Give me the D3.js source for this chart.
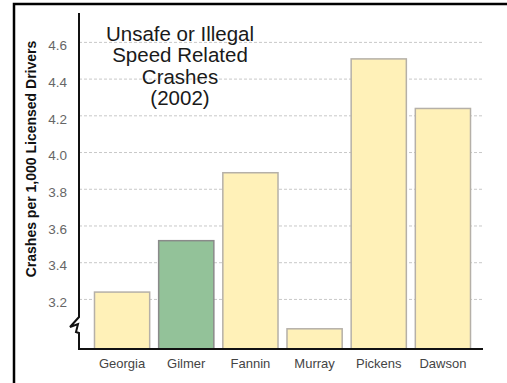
<!DOCTYPE html>
<html>
<head>
<meta charset="utf-8">
<script src="https://cdn.jsdelivr.net/npm/d3@7"></script>
<style>
  body { margin: 0; background: #fff; }
  svg text { font-family: "Liberation Sans", Arial, sans-serif; }
</style>
</head>
<body>
<div id="chart"></div>
<script>
"use strict"

// data
const counties = ["Georgia", "Gilmer", "Fannin", "Murray", "Pickens", "Dawson"];
const rates = [3.24, 3.52, 3.89, 3.04, 4.51, 4.24];
const highlight = "Gilmer";
const yTicks = [3.2, 3.4, 3.6, 3.8, 4.0, 4.2, 4.4, 4.6];
const titleLines = ["Unsafe or Illegal", "Speed Related", "Crashes", "(2002)"];
const yLabel = "Crashes per 1,000 Licensed Drivers";

const W = 507, H = 383;
const axisX = 79, plotRight = 483, axisTop = 13, axisBottom = 349;

var svg = d3.select("#chart")
  .append("svg")
    .attr("width", W)
    .attr("height", H);

// frame (top + left edges only)
svg.append("path")
  .attr("d", "M14,383 L14,4 L507,4")
  .attr("fill", "none")
  .attr("stroke", "#000")
  .attr("stroke-width", 2.5);

var x = d3.scaleBand()
  .domain(counties)
  .range([90, 475])
  .paddingInner(0.14)
  .paddingOuter(0.07);

var y = d3.scaleLinear()
  .domain([2.93, 4.76])
  .range([axisBottom, axisTop]);

// gridlines
svg.append("g")
  .selectAll("line")
  .data(yTicks)
  .enter()
  .append("line")
    .attr("x1", axisX)
    .attr("x2", plotRight)
    .attr("y1", d => y(d))
    .attr("y2", d => y(d))
    .attr("stroke", "#c8c8c8")
    .attr("stroke-width", 1)
    .attr("stroke-dasharray", "3,2");

// y tick labels
svg.append("g")
  .selectAll("text")
  .data(yTicks)
  .enter()
  .append("text")
    .attr("x", 67)
    .attr("y", d => y(d) + 3)
    .attr("dy", "0.35em")
    .attr("text-anchor", "end")
    .style("font-size", "13.5px")
    .style("fill", "#666")
    .text(d => d.toFixed(1));

// bars
svg.append("g")
  .selectAll("rect")
  .data(counties)
  .enter()
  .append("rect")
    .attr("x", d => x(d))
    .attr("y", (d, i) => y(rates[i]))
    .attr("width", x.bandwidth())
    .attr("height", (d, i) => axisBottom - y(rates[i]))
    .attr("fill", d => d === highlight ? "#93c299" : "#fff1b8")
    .attr("stroke", d => d === highlight ? "#8a8a8a" : "#b5b0a8")
    .attr("stroke-width", 1.5);

// x labels
svg.append("g")
  .selectAll("text")
  .data(counties)
  .enter()
  .append("text")
    .attr("x", d => x(d) + x.bandwidth() / 2)
    .attr("y", 368)
    .attr("text-anchor", "middle")
    .style("font-size", "13px")
    .style("fill", "#444")
    .text(d => d);

// y axis with break mark, and baseline
svg.append("path")
  .attr("d", "M" + axisX + "," + axisTop + " L" + axisX + ",317 L70,327 L78,324 L76,332 L" + axisX + ",333 L" + axisX + "," + axisBottom + " L" + plotRight + "," + axisBottom)
  .attr("fill", "none")
  .attr("stroke", "#111")
  .attr("stroke-width", 2);

// y axis label
svg.append("text")
  .attr("transform", "translate(36,159) rotate(-90)")
  .attr("text-anchor", "middle")
  .style("font-size", "14px")
  .style("font-weight", "bold")
  .style("fill", "#111")
  .text(yLabel);

// title
svg.append("g")
  .selectAll("text")
  .data(titleLines)
  .enter()
  .append("text")
    .attr("x", 180)
    .attr("y", (d, i) => 41 + i * 21.3)
    .attr("text-anchor", "middle")
    .style("font-size", "20.5px")
    .style("fill", "#1a1a1a")
    .text(d => d);
</script>
</body>
</html>
